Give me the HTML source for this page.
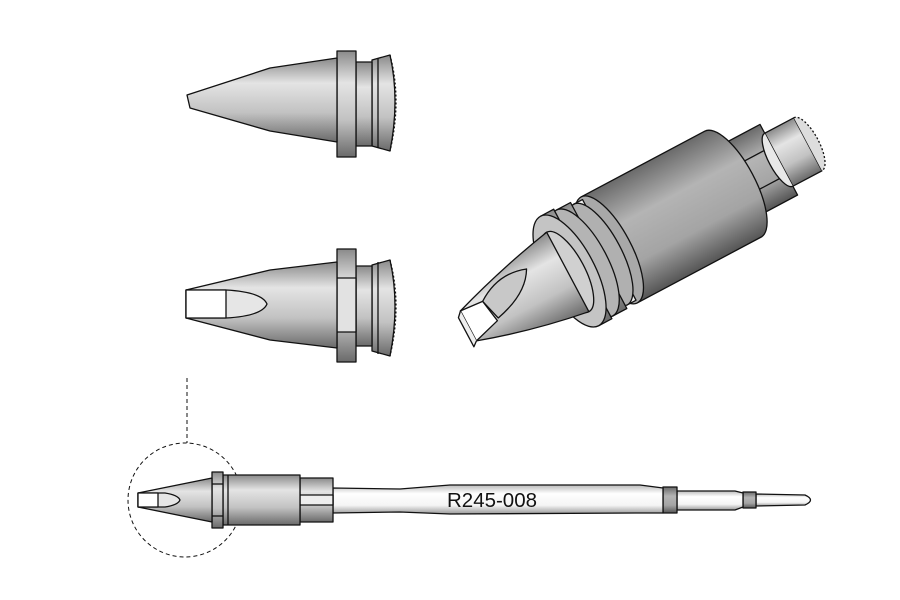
<!DOCTYPE html>
<html><head><meta charset="utf-8"><style>html,body{margin:0;padding:0;background:#fff}svg{display:block}</style></head><body>
<svg width="900" height="600" viewBox="0 0 900 600" xmlns="http://www.w3.org/2000/svg">
<defs>
<linearGradient id="g" x1="0" y1="0" x2="0" y2="1">
<stop offset="0" stop-color="#8a8a8a"/><stop offset="0.3" stop-color="#e4e4e4"/><stop offset="0.65" stop-color="#c2c2c2"/><stop offset="1" stop-color="#6a6a6a"/></linearGradient>
<linearGradient id="gd" x1="0" y1="0" x2="0" y2="1">
<stop offset="0" stop-color="#6a6a6a"/><stop offset="0.35" stop-color="#b4b4b4"/><stop offset="0.7" stop-color="#a4a4a4"/><stop offset="1" stop-color="#555"/></linearGradient>
<linearGradient id="gw" x1="0" y1="0" x2="0" y2="1">
<stop offset="0" stop-color="#bbb"/><stop offset="0.3" stop-color="#fff"/><stop offset="0.7" stop-color="#f4f4f4"/><stop offset="1" stop-color="#999"/></linearGradient>
</defs>
<g stroke="#111" stroke-width="1.3" stroke-linejoin="round">
<!-- top tip -->
<path d="M372,60 L390,55 Q400,100 390,151 L372,146 Z" fill="url(#g)"/>
<path d="M390,55 Q402,100 390,151" fill="none" stroke-dasharray="2,2"/>
<rect x="356" y="62" width="16" height="84" fill="url(#g)"/>
<rect x="337" y="51" width="19" height="106" fill="url(#g)"/>
<path d="M187,95 L270,68 L337,58 L337,142 L270,131 L190,108 Z" fill="url(#g)"/>
<line x1="378" y1="58" x2="378" y2="148"/>
<!-- middle tip -->
<path d="M372,265 L390,260 Q400,305 390,356 L372,351 Z" fill="url(#g)"/>
<path d="M390,260 Q402,305 390,356" fill="none" stroke-dasharray="2,2"/>
<rect x="356" y="266" width="16" height="80" fill="url(#g)"/>
<rect x="337" y="249" width="19" height="113" fill="url(#g)"/>
<rect x="337" y="278" width="19" height="54" fill="#e2e2e2"/>
<path d="M186,290 L270,270 L337,262 L337,348 L270,340 L186,318 Z" fill="url(#g)"/>
<path d="M186,290 L226,290 Q262,292 267,304 Q262,316 226,318 L186,318 Z" fill="#e6e6e6"/>
<rect x="186" y="290" width="40" height="28" fill="#fff"/>
<line x1="378" y1="262" x2="378" y2="354"/>
<!-- dashed circle & guide -->
<circle cx="185" cy="500" r="57" fill="none" stroke-width="1" stroke-dasharray="4,3"/>
<line x1="187" y1="378" x2="187" y2="443" stroke-width="1" stroke-dasharray="4,3"/>
<!-- bottom probe -->
<path d="M756,494 L805,495 Q816,500 805,505 L756,506 Z" fill="url(#gw)"/>
<rect x="743" y="492" width="13" height="16" fill="url(#gd)"/>
<path d="M677,491 L735,491 L743,493 L743,507 L735,510 L677,510 Z" fill="url(#gw)"/>
<rect x="663" y="487" width="14" height="26" fill="url(#gd)"/>
<path d="M333,488 L400,489 L450,485 L640,485 L663,488 L663,513 L640,513 L450,514 L400,512 L333,513 Z" fill="url(#gw)"/>
<rect x="300" y="478" width="33" height="44" fill="url(#g)"/>
<rect x="300" y="495" width="33" height="10" fill="#eee"/>
<rect x="223" y="475" width="77" height="50" fill="url(#g)"/>
<line x1="228" y1="475" x2="228" y2="525"/>
<rect x="212" y="472" width="11" height="56" fill="url(#g)"/>
<line x1="212" y1="484" x2="223" y2="484"/><line x1="212" y1="516" x2="223" y2="516"/>
<path d="M138,493 L212,478 L212,522 L138,507 Z" fill="url(#g)"/>
<path d="M138,493 L165,493 Q178,495 180,500 Q178,505 165,507 L138,507 Z" fill="#e6e6e6"/>
<rect x="138" y="493" width="20" height="14" fill="#fff"/>
<!-- isometric view -->
<g transform="translate(468,325) rotate(-28)">
<path d="M352,-30 L385,-30 L385,30 L352,30 Z" fill="url(#g)"/>
<path d="M385,-30 A11,30 0 0 1 385,30" fill="#ddd" stroke-dasharray="2,2"/>
<path d="M300,-40 L352,-40 L352,40 L300,40 Z" fill="url(#gd)"/>
<line x1="300" y1="-15" x2="352" y2="-15"/><line x1="300" y1="17" x2="352" y2="17"/>
<path d="M352,-30 A10,30 0 0 0 352,30" fill="#e8e8e8"/>
<path d="M160,-60 L300,-60 A22,60 0 0 1 300,60 L160,60 Z" fill="url(#gd)"/>
<ellipse cx="160" cy="0" rx="22" ry="60" fill="#a8a8a8"/>
<path d="M150,-57 L160,-57 L160,57 L150,57 Z" fill="#f0f0f0"/>
<ellipse cx="150" cy="0" rx="21" ry="57" fill="#b0b0b0"/>
<path d="M132,-60 L148,-60 L148,60 L132,60 Z" fill="url(#g)"/>
<line x1="132" y1="-32" x2="148" y2="-32"/>
<ellipse cx="132" cy="0" rx="23" ry="60" fill="#b4b4b4"/>
<path d="M115,-62 L130,-62 L130,62 L115,62 Z" fill="url(#g)"/>
<ellipse cx="115" cy="0" rx="25" ry="62" fill="#c4c4c4"/>
<ellipse cx="113" cy="0" rx="17" ry="45" fill="#d0d0d0"/>
<path d="M0,-16 Q55,-34 113,-45 L113,45 Q55,36 0,18 Z" fill="url(#g)"/>
<path d="M24,-14 Q50,-32 78,-22 Q66,0 30,8 Z" fill="#c8c8c8"/>
<path d="M0,-16 L24,-14 L28,10 L0,18 Z" fill="#fff"/>
<path d="M0,-16 L-5,-11 L-5,22 L0,18" fill="#eee"/>
</g>
</g>
<text x="447" y="507" font-family="Liberation Sans, sans-serif" font-size="20" textLength="90" lengthAdjust="spacingAndGlyphs" fill="#111">R245-008</text>
</svg>
</body></html>
